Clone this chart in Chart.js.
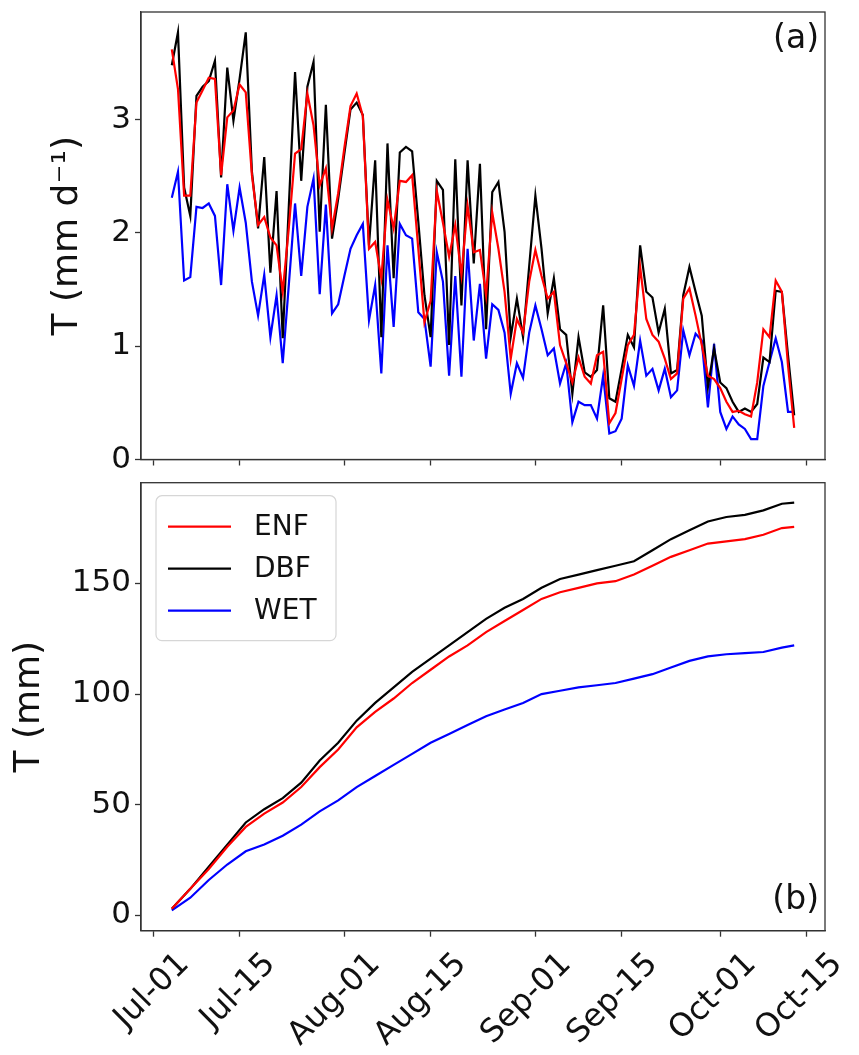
<!DOCTYPE html>
<html lang="en">
<head>
<meta charset="UTF-8">
<title>Transpiration</title>
<style>
  body { margin: 0; background: #fff; }
  #page { position: relative; width: 859px; height: 1055px; }
  .panel { position: absolute; left: 0; }
</style>
</head>
<body>
<div id="page">
  <canvas id="dailyChart" class="panel" style="top:0" width="859" height="470"></canvas>
  <canvas id="cumChart" class="panel" style="top:470px" width="859" height="585"></canvas>
</div>

<script src="https://cdn.jsdelivr.net/npm/chart.js"></script>
<script>
// day numbers counted from Jul-01 (day 0); the daily series run from Jul-04 (day 3)
const firstDay = 3
const tickDays = [0, 14, 31, 45, 62, 76, 92, 106]
const tickLabels = ['Jul-01', 'Jul-15', 'Aug-01', 'Aug-15', 'Sep-01', 'Sep-15', 'Oct-01', 'Oct-15']
const seriesNames = ['ENF', 'DBF', 'WET']

// panel (a): daily T (mm d-1)
const enfDaily = [3.62, 3.27, 2.33, 2.33, 3.15, 3.26, 3.37, 3.36, 2.51, 3.02,
  3.08, 3.31, 3.24, 2.51, 2.07, 2.14, 1.96, 1.89, 1.48, 2.05,
  2.70, 2.74, 3.23, 2.95, 2.42, 2.57, 2.04, 2.35, 2.75, 3.12,
  3.23, 3.03, 1.86, 1.92, 1.60, 2.29, 2.04, 2.46, 2.45, 2.51,
  1.86, 1.21, 1.40, 2.37, 2.09, 1.79, 2.07, 1.63, 2.24, 1.83,
  1.85, 1.45, 2.18, 1.86, 1.48, 0.89, 1.24, 1.12, 1.57, 1.85,
  1.62, 1.42, 1.48, 1.01, 0.85, 0.68, 0.90, 0.73, 0.67, 0.92,
  0.95, 0.32, 0.41, 0.71, 1.01, 1.10, 1.70, 1.24, 1.10, 1.04,
  0.89, 0.71, 0.76, 1.42, 1.51, 1.27, 1.01, 0.74, 0.71, 0.63,
  0.51, 0.42, 0.43, 0.40, 0.38, 0.68, 1.15, 1.08, 1.58, 1.48, 0.83, 0.28]
const dbfDaily = [3.48, 3.77, 2.40, 2.15, 3.21, 3.29, 3.34, 3.52, 2.49, 3.46,
  2.99, 3.36, 3.77, 2.54, 2.04, 2.67, 1.65, 2.37, 1.07, 2.25,
  3.42, 2.46, 3.29, 3.51, 2.01, 3.13, 1.95, 2.30, 2.70, 3.09,
  3.15, 3.04, 1.89, 2.64, 1.08, 2.79, 1.60, 2.71, 2.76, 2.72,
  2.10, 1.45, 1.08, 2.46, 2.38, 1.01, 2.65, 1.36, 2.64, 1.73,
  2.61, 1.15, 2.36, 2.45, 2.01, 1.08, 1.42, 1.08, 1.71, 2.33,
  1.86, 1.29, 1.60, 1.15, 1.10, 0.58, 1.08, 0.77, 0.73, 0.79,
  1.36, 0.54, 0.51, 0.80, 1.10, 0.99, 1.89, 1.48, 1.43, 1.12,
  1.33, 0.76, 0.79, 1.45, 1.70, 1.48, 1.27, 0.64, 0.98, 0.68,
  0.63, 0.51, 0.42, 0.45, 0.42, 0.49, 0.90, 0.86, 1.49, 1.48, 0.92, 0.39]
const wetDaily = [2.31, 2.54, 1.58, 1.61, 2.23, 2.22, 2.26, 2.15, 1.54, 2.43,
  2.02, 2.40, 2.09, 1.57, 1.27, 1.63, 1.08, 1.45, 0.85, 1.55,
  2.26, 1.62, 2.23, 2.48, 1.46, 2.25, 1.29, 1.37, 1.62, 1.86,
  1.98, 2.08, 1.23, 1.54, 0.76, 1.89, 1.17, 2.08, 1.98, 1.95,
  1.30, 1.24, 0.82, 1.83, 1.57, 0.74, 1.62, 0.73, 1.86, 1.05,
  1.55, 0.89, 1.37, 1.32, 1.12, 0.58, 0.85, 0.72, 1.12, 1.36,
  1.15, 0.92, 0.98, 0.67, 0.85, 0.33, 0.51, 0.48, 0.48, 0.36,
  0.74, 0.23, 0.25, 0.36, 0.83, 0.65, 1.05, 0.74, 0.80, 0.61,
  0.80, 0.55, 0.61, 1.14, 0.92, 1.11, 1.05, 0.46, 1.02, 0.42,
  0.27, 0.38, 0.31, 0.27, 0.18, 0.18, 0.65, 0.86, 1.07, 0.86, 0.42, 0.42]

// panel (b): cumulative T (mm)
const cumDays = [3, 6, 9, 12, 15, 18, 21, 24, 27, 30, 33, 36, 39, 42, 45, 48, 51, 54,
  57, 60, 63, 66, 69, 72, 75, 78, 81, 84, 87, 90, 93, 96, 99, 102, 104]
const enfCum = [3, 12, 21, 31, 40, 46, 51, 58, 67, 75, 85, 92, 98, 105, 111, 117, 122, 128,
  133, 138, 143, 146, 148, 150, 151, 154, 158, 162, 165, 168, 169, 170, 172, 175, 175.5]
const dbfCum = [3, 12, 22, 32, 42, 48, 53, 60, 70, 78, 88, 96, 103, 110, 116, 122, 128, 134,
  139, 143, 148, 152, 154, 156, 158, 160, 165, 170, 174, 178, 180, 181, 183, 186, 186.5]
const wetCum = [2.3, 8, 16, 23, 29, 32, 36, 41, 47, 52, 58, 63, 68, 73, 78, 82, 86, 90,
  93, 96, 100, 101.5, 103, 104, 105, 107, 109, 112, 115, 117, 118, 118.5, 119, 121, 122]

const colors = ['#ff0000', '#000000', '#0000ff']
const FONT = '"DejaVu Sans", sans-serif'

function toPoints(xs, ys) {
  return ys.map((v, i) => ({ x: xs[i], y: v }))
}
const dailyDays = enfDaily.map((v, i) => firstDay + i)

// draws the closed axes box, the panel letter and (optionally) the legend
const framePlugin = {
  id: 'frame',
  afterDraw(chart, args, opts) {
    const { ctx, chartArea: a } = chart
    ctx.save()
    ctx.strokeStyle = '#333'
    ctx.lineWidth = 1.3
    ctx.strokeRect(a.left, a.top, a.right - a.left, a.bottom - a.top)

    ctx.fillStyle = '#111'
    ctx.font = '33px ' + FONT
    ctx.textAlign = 'right'
    ctx.textBaseline = 'alphabetic'
    ctx.fillText(opts.label, a.right - 6, opts.labelAtTop ? a.top + 36 : a.bottom - 22)

    if (opts.legend) {
      const bx = a.left + 15, by = a.top + 13, bw = 180, bh = 145
      ctx.beginPath()
      ctx.roundRect(bx, by, bw, bh, 6)
      ctx.fillStyle = 'rgba(255,255,255,0.85)'
      ctx.fill()
      ctx.strokeStyle = '#d6d6d6'
      ctx.lineWidth = 1.2
      ctx.stroke()
      ctx.font = '28px ' + FONT
      ctx.textAlign = 'left'
      ctx.textBaseline = 'middle'
      chart.data.datasets.forEach((ds, i) => {
        const y = by + 31 + i * 42
        ctx.strokeStyle = ds.borderColor
        ctx.lineWidth = 2.2
        ctx.beginPath()
        ctx.moveTo(bx + 12, y)
        ctx.lineTo(bx + 75, y)
        ctx.stroke()
        ctx.fillStyle = '#111'
        ctx.fillText(ds.label, bx + 98, y + 1)
      })
    }
    ctx.restore()
  }
}

function makeChart(id, datasets, cfg) {
  return new Chart(document.getElementById(id), {
    type: 'line',
    data: { datasets },
    options: {
      responsive: false,
      animation: false,
      devicePixelRatio: 1,
      layout: { padding: { left: 0, right: 34, top: cfg.top, bottom: 0 } },
      elements: { point: { radius: 0 }, line: { borderWidth: 2.2, tension: 0 } },
      plugins: {
        legend: { display: false },
        tooltip: { enabled: false },
        frame: { label: cfg.label, labelAtTop: cfg.labelAtTop, legend: cfg.legend }
      },
      scales: {
        x: {
          type: 'linear',
          min: -2.0,
          max: 109.0,
          afterBuildTicks: s => { s.ticks = tickDays.map(v => ({ value: v })) },
          afterFit: s => {
            s.height = cfg.xHeight
            s.paddingLeft = 0; s.paddingRight = 0
          },
          ticks: {
            display: cfg.showDates,
            callback: (v) => tickLabels[tickDays.indexOf(v)],
            minRotation: 45,
            maxRotation: 45,
            labelOffset: 31,
            padding: 9,
            color: '#111',
            font: { family: FONT, size: 32 }
          },
          grid: { drawOnChartArea: false, drawTicks: true, tickLength: 6, tickWidth: 1.3, tickColor: '#333' },
          border: { display: true, color: '#333', width: 1.3 }
        },
        y: {
          min: cfg.yMin,
          max: cfg.yMax,
          afterBuildTicks: s => { s.ticks = cfg.yTicks.map(v => ({ value: v })) },
          afterFit: s => {
            s.width = 141
            s.paddingTop = 0; s.paddingBottom = 0
          },
          ticks: {
            padding: 4,
            color: '#111',
            font: { family: FONT, size: 31 }
          },
          title: {
            display: true,
            text: cfg.yTitle,
            color: '#111',
            padding: { top: cfg.titlePad, bottom: 0 },
            font: { family: FONT, size: 36 }
          },
          grid: { drawOnChartArea: false, drawTicks: true, tickLength: 6, tickWidth: 1.3, tickColor: '#333' },
          border: { display: true, color: '#333', width: 1.3 }
        }
      }
    },
    plugins: [framePlugin]
  })
}

function lineSet(i, pts) {
  return { label: seriesNames[i], data: pts, borderColor: colors[i], backgroundColor: colors[i], fill: false }
}

makeChart('dailyChart', [
  lineSet(0, toPoints(dailyDays, enfDaily)),
  lineSet(1, toPoints(dailyDays, dbfDaily)),
  lineSet(2, toPoints(dailyDays, wetDaily))
], {
  top: 12, xHeight: 10.5, showDates: false,
  yMin: 0, yMax: 3.95, yTicks: [0, 1, 2, 3],
  yTitle: 'T (mm d\u207B\u00B9)', titlePad: 46,
  label: '(a)', labelAtTop: true, legend: false
})

makeChart('cumChart', [
  lineSet(0, toPoints(cumDays, enfCum)),
  lineSet(1, toPoints(cumDays, dbfCum)),
  lineSet(2, toPoints(cumDays, wetCum))
], {
  top: 12.7, xHeight: 124.3, showDates: true,
  yMin: -6.9, yMax: 195.5, yTicks: [0, 50, 100, 150],
  yTitle: 'T (mm)', titlePad: 8,
  label: '(b)', labelAtTop: false, legend: true
})
</script>
</body>
</html>
